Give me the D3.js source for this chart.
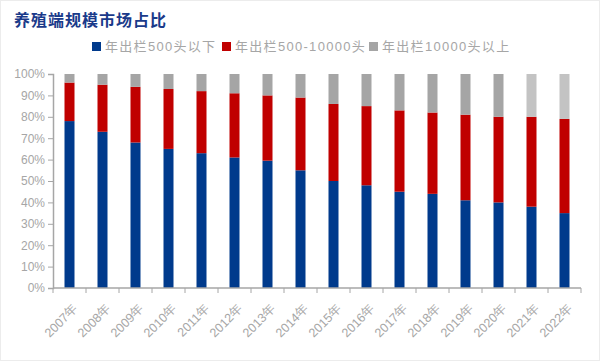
<!DOCTYPE html>
<html>
<head>
<meta charset="utf-8">
<script src="https://cdn.jsdelivr.net/npm/d3@7"></script>
<style>
  body { margin: 0; background: #fff; }
  svg { display: block; }
</style>
</head>
<body>
<svg id="chart" width="600" height="361"></svg>
<script>
// data (percent of farms per year)
const years = ["2007年","2008年","2009年","2010年","2011年","2012年","2013年","2014年","2015年","2016年","2017年","2018年","2019年","2020年","2021年","2022年"];
const small = [78, 73, 68, 65, 63, 61, 59.5, 55, 50, 48, 45, 44, 41, 40, 38, 35];
const mid   = [18, 22, 26, 28, 29, 30, 30.5, 34, 36, 37, 38, 38, 40, 40, 42, 44];
const large = [4, 5, 6, 7, 8, 9, 10, 11, 14, 15, 17, 18, 19, 20, 20, 21];
const seriesNames = ["年出栏500头以下", "年出栏500-10000头", "年出栏10000头以上"];
const yTicks = [0, 10, 20, 30, 40, 50, 60, 70, 80, 90, 100];

const colors = ["#003a8c", "#c00000", "#a5a5a5"];
const lightGray = "#c3c3c3"; // last two years drawn lighter

const svg = d3.select("#chart");
const margin = { left: 53, right: 19, top: 74, bottom: 73 };
const W = 600, H = 361;

svg.append("rect")
    .attr("x", 0.5).attr("y", 0.5)
    .attr("width", W - 1).attr("height", H - 1)
    .attr("fill", "none").attr("stroke", "#ececec");

// title
svg.append("text")
    .attr("x", 14).attr("y", 26)
    .attr("fill", "#1a3a8a")
    .attr("font-family", "'Noto Sans CJK SC', sans-serif")
    .attr("font-weight", "bold")
    .attr("font-size", 16)
    .attr("letter-spacing", 1)
    .text("养殖端规模市场占比");

const x = d3.scaleBand()
    .domain(years)
    .range([margin.left, W - margin.right]);

const y = d3.scaleLinear()
    .domain([0, 100])
    .range([H - margin.bottom, margin.top]);

const data = years.map((yr, i) => ({ year: yr, s0: small[i], s1: mid[i], s2: large[i] }));
const stack = d3.stack().keys(["s0", "s1", "s2"])(data);

const barW = 10;
stack.forEach((layer, k) => {
    svg.append("g").selectAll("rect")
        .data(layer)
        .enter()
        .append("rect")
        .attr("x", d => x(d.data.year) + x.bandwidth() / 2 - barW / 2)
        .attr("y", d => y(Math.min(d[1], 100)))
        .attr("width", barW)
        .attr("height", d => y(d[0]) - y(Math.min(d[1], 100)))
        .attr("fill", (d, i) => (k == 2 && i >= 14) ? lightGray : colors[k]);
});

// y axis
const yAxis = svg.append("g")
    .attr("transform", `translate(${margin.left},0)`)
    .call(d3.axisLeft(y).tickValues(yTicks).tickFormat(d => d + "%").tickSize(5).tickPadding(3));
yAxis.select(".domain").attr("stroke", "#a6a6a6").attr("stroke-width", 1.5);
yAxis.selectAll(".tick line").attr("stroke", "#a6a6a6");
yAxis.selectAll("text")
    .attr("fill", "#a6a6a6")
    .attr("font-family", "'Liberation Sans', Arial, sans-serif")
    .attr("font-size", 12);

// x axis: ticks at category boundaries
const xAxisG = svg.append("g")
    .attr("transform", `translate(0,${H - margin.bottom})`);
xAxisG.append("line")
    .attr("x1", margin.left).attr("x2", W - margin.right)
    .attr("stroke", "#a6a6a6").attr("stroke-width", 1.5);
const bounds = years.map(d => x(d)).concat([x.range()[1]]);
xAxisG.selectAll(".bt")
    .data(bounds)
    .enter()
    .append("line")
    .attr("x1", d => d).attr("x2", d => d)
    .attr("y1", 0).attr("y2", 5)
    .attr("stroke", "#a6a6a6");
xAxisG.selectAll(".xl")
    .data(years)
    .enter()
    .append("text")
    .attr("transform", d => `translate(${x(d) + x.bandwidth() / 2 + 3},${15}) rotate(-45)`)
    .attr("text-anchor", "end")
    .attr("dy", "0.7em")
    .attr("fill", "#a6a6a6")
    .attr("font-family", "'Liberation Sans', Arial, sans-serif")
    .attr("font-size", 12.5)
    .text(d => d);

// legend
const legendX = [92, 222, 369];
const legend = svg.append("g");
seriesNames.forEach((name, i) => {
    legend.append("rect")
        .attr("x", legendX[i]).attr("y", 42)
        .attr("width", 9).attr("height", 9)
        .attr("fill", colors[i]);
    legend.append("text")
        .attr("x", legendX[i] + 13).attr("y", 51)
        .attr("fill", "#a6a6a6")
        .attr("font-family", "'Liberation Sans', 'Noto Sans CJK SC', sans-serif")
        .attr("font-size", 13)
        .attr("letter-spacing", 1.3)
        .text(name);
});
</script>
</body>
</html>
